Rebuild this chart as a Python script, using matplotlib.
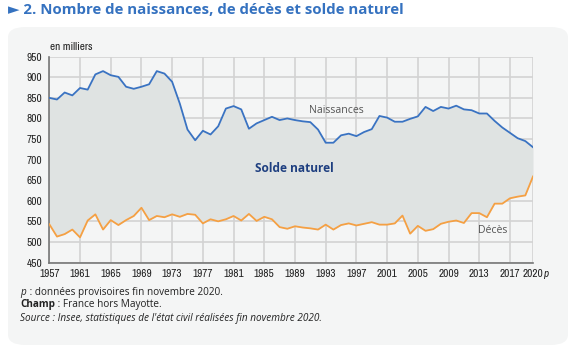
import matplotlib
matplotlib.use('Agg')
import matplotlib.pyplot as plt
from matplotlib.patches import FancyBboxPatch

# data, in thousands
years = list(range(1957, 2021))
births = [850, 846, 863, 856, 874, 870, 907, 915, 905, 901,
          877, 872, 877, 883, 915, 909, 889, 836, 773, 747,
          770, 761, 781, 824, 830, 822, 775, 788, 796, 804,
          796, 800, 796, 793, 791, 773, 741, 741, 759, 763,
          757, 767, 774, 806, 802, 792, 792, 799, 805, 828,
          818, 828, 824, 831, 822, 820, 812, 812, 794, 778,
          765, 752, 745, 730]
deaths = [543, 513, 519, 530, 511, 552, 567, 530, 553, 541,
          553, 563, 583, 553, 563, 560, 567, 561, 568, 566,
          545, 555, 550, 555, 563, 552, 568, 551, 561, 555,
          536, 532, 538, 535, 533, 530, 542, 530, 541, 545,
          540, 544, 548, 542, 542, 545, 564, 520, 539, 527,
          531, 544, 549, 552, 546, 570, 570, 560, 593, 593,
          606, 610, 613, 659]
tick_years = [1957, 1961, 1965, 1969, 1973, 1977, 1981, 1985, 1989,
              1993, 1997, 2001, 2005, 2009, 2013, 2017, 2020]
tick_labels = [str(y) for y in tick_years]
y_ticks = list(range(450, 951, 50))

blue = '#3a73c2'
orange = '#f5a043'
fill_grey = '#dfe3e2'
panel_bg = '#f4f5f5'
grid_col = '#d3d3d3'
narrow = ['Archivo Narrow', 'DejaVu Sans']
tick_fs = 8.1
plt.rcParams['font.family'] = ['Open Sans', 'DejaVu Sans']

fig = plt.figure(figsize=(5.77, 3.54), dpi=100)
fig.patch.set_facecolor('white')

# rounded grey panel behind everything
panel = FancyBboxPatch((8 / 577, 1 - 345 / 354), 560 / 577, 318 / 354,
                       boxstyle='round,pad=0,rounding_size=0.03',
                       transform=fig.transFigure, facecolor=panel_bg,
                       edgecolor='none', zorder=-10)
fig.patches.append(panel)

fig.text(8 / 577, 1 - 10 / 354, '\u25ba 2. Nombre de naissances, de décès et solde naturel',
         color='#3572c0', fontsize=10.8, fontweight='bold', va='center', ha='left')

ax = fig.add_axes([49.3 / 577, 1 - 262.5 / 354, (533 - 49.3) / 577, (262.5 - 56.7) / 354])
ax.set_zorder(5)
ax.set_facecolor(panel_bg)
ax.fill_between(years, deaths, births, color=fill_grey, linewidth=0, zorder=1)
ax.plot(years, births, color=blue, linewidth=1.3, zorder=3)
ax.plot(years, deaths, color=orange, linewidth=1.3, zorder=3)

ax.set_xlim(1957, 2020)
ax.set_ylim(450, 950)
ax.set_xticks(tick_years)
ax.set_xticklabels(tick_labels)
ax.set_yticks(y_ticks)
ax.grid(True, color=grid_col, linewidth=1.2, zorder=0)
ax.set_axisbelow(True)
ax.tick_params(length=0, labelsize=tick_fs, colors='#222222', pad=5)
for lbl in ax.get_xticklabels() + ax.get_yticklabels():
    lbl.set_family(narrow)
for s in ['top', 'right']:
    ax.spines[s].set_visible(False)
for s in ['left', 'bottom']:
    ax.spines[s].set_color('#777777')
    ax.spines[s].set_linewidth(1.2)

# italic "p" right after the last year label
fig.canvas.draw()
last = ax.get_xticklabels()[-1]
lb = last.get_window_extent()
fig.text((lb.x1 - 0.5) / fig.bbox.width, (lb.y0 + lb.y1) / 2 / fig.bbox.height, 'p',
         fontsize=tick_fs, color='#222222', style='italic', va='center', ha='left',
         family=narrow)

fig.text(50 / 577, 1 - 47 / 354, 'en milliers', fontsize=tick_fs, color='#222222',
         va='center', ha='left', family=narrow)

ax.text(1994.4, 820, 'Naissances', fontsize=7.6, color='#555555', ha='center', va='center')
ax.text(1988.9, 678, 'Solde naturel', fontsize=8.6, color='#1e3f80', fontweight='bold',
        ha='center', va='center')
ax.text(2014.8, 527, 'Décès', fontsize=7.6, color='#555555', ha='center', va='center')

fs = 7.2
fig.text(20 / 577, 1 - 292 / 354, 'p', fontsize=fs, color='#222222', va='center',
         ha='left', style='italic')
fig.text(27 / 577, 1 - 292 / 354, ' : données provisoires fin novembre 2020.',
         fontsize=fs, color='#222222', va='center', ha='left')
t = fig.text(20 / 577, 1 - 305 / 354, 'Champ', fontsize=fs, color='#222222',
             va='center', ha='left', fontweight='bold')
fig.canvas.draw()
bb = t.get_window_extent()
fig.text(bb.x1 / fig.bbox.width, 1 - 305 / 354, ' : France hors Mayotte.',
         fontsize=fs, color='#222222', va='center', ha='left')
fig.text(20 / 577, 1 - 319 / 354,
         "Source : Insee, statistiques de l'état civil réalisées fin novembre 2020.",
         fontsize=fs, color='#222222', va='center', ha='left', style='italic')

fig.savefig('out.png', dpi=100)
